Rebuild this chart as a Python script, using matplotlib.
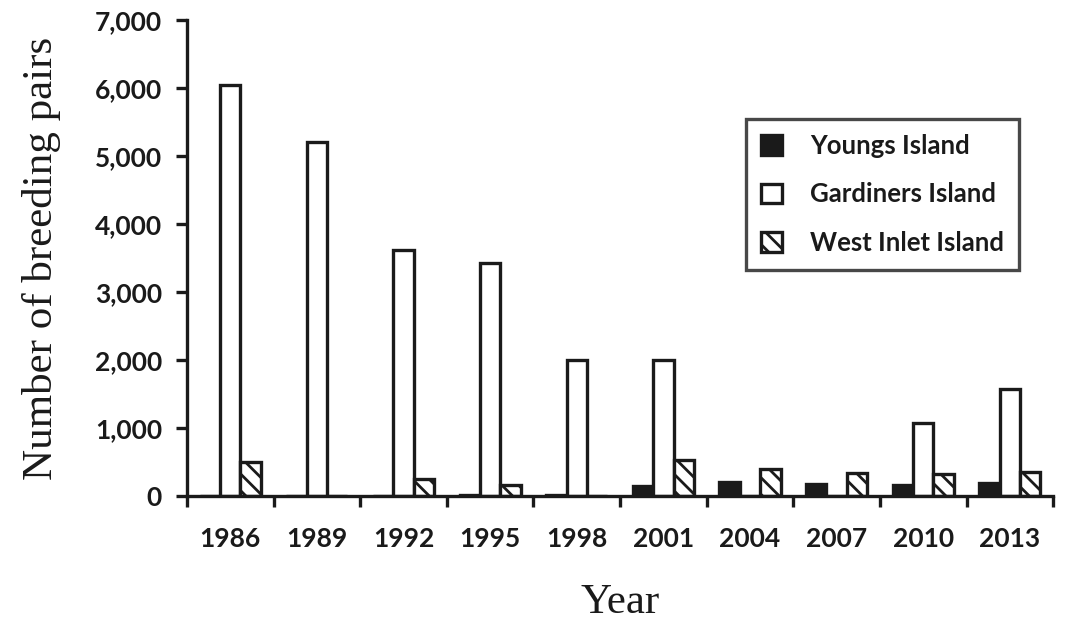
import numpy as np
import matplotlib
matplotlib.use("Agg")
import matplotlib.pyplot as plt

# values
years = ['1986', '1989', '1992', '1995', '1998', '2001', '2004', '2007', '2010', '2013']
youngs = [0, 0, 0, 15, 15, 150, 210, 180, 160, 190]
gardiners = [6050, 5200, 3620, 3430, 2000, 2000, 0, 0, 1070, 1570]
west_inlet = [500, 0, 250, 160, 0, 530, 390, 340, 320, 350]

plt.rcParams['hatch.linewidth'] = 2.0

fig = plt.figure(figsize=(10.66, 6.21), dpi=100)
ax = fig.add_axes([0.1754, 0.2013, 0.8126, 0.7665])

x = np.arange(len(years))
w = 0.235
kw = dict(edgecolor='#1a1a1a', linewidth=2.4)
ax.bar(x - w, youngs, w, color='#1a1a1a', label='Youngs Island', **kw)
ax.bar(x, gardiners, w, color='white', label='Gardiners Island', **kw)
ax.bar(x + w, west_inlet, w, color='white', hatch='\\\\', label='West Inlet Island', **kw)

ax.set_xlim(-0.5, len(years) - 0.5)
ax.set_ylim(0, 7000)
ax.set_yticks(np.arange(0, 7001, 1000))
ax.set_yticklabels([f'{v:,}' for v in range(0, 7001, 1000)])

# ticks between groups, labels at the centres
ax.set_xticks(np.arange(-0.5, len(years), 1.0))
ax.set_xticklabels([])
ax.set_xticks(x, minor=True)
ax.set_xticklabels(years, minor=True)
ax.tick_params(axis='x', which='minor', length=0, pad=22)
ax.tick_params(axis='x', which='major', length=8, width=2.4, color='#1a1a1a')
ax.tick_params(axis='y', length=8, width=2.4, color='#1a1a1a', pad=10)

for lab in ax.get_xticklabels(minor=True) + ax.get_yticklabels():
    lab.set_fontfamily('Lato')
    lab.set_fontweight('bold')
    lab.set_fontsize(19)
    lab.set_color('#1a1a1a')

for s in ['top', 'right']:
    ax.spines[s].set_visible(False)
for s in ['left', 'bottom']:
    ax.spines[s].set_linewidth(2.4)
    ax.spines[s].set_color('#1a1a1a')

ax.set_xlabel('Year', fontfamily='Liberation Serif', fontsize=31, labelpad=24, color='#1a1a1a')
ax.set_ylabel('Number of breeding pairs', fontfamily='Liberation Serif', fontsize=31,
              labelpad=24, color='#1a1a1a')

leg = ax.legend(loc='upper left', bbox_to_anchor=(0.63, 0.82), frameon=True, fancybox=False,
                prop={'family': 'Lato', 'weight': 'bold', 'size': 18.5},
                handlelength=0.8, handleheight=0.8, labelspacing=0.95, borderpad=0.6,
                handletextpad=1.1)
leg.get_frame().set_edgecolor('#1a1a1a')
leg.get_frame().set_linewidth(2.4)
for t in leg.get_texts():
    t.set_color('#1a1a1a')

fig.savefig('out.png', dpi=100)
